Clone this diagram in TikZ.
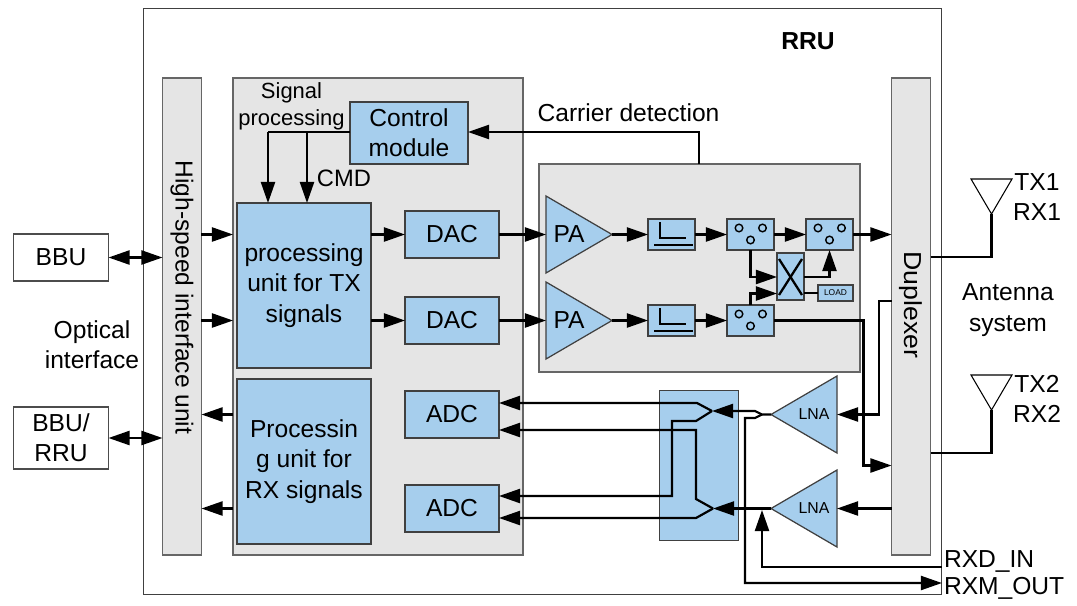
\documentclass[tikz,border=0pt]{standalone}
\usepackage{fontspec}
\setmainfont{Liberation Sans}
\usetikzlibrary{arrows.meta}
\definecolor{boxblue}{HTML}{A6CEED}
\definecolor{panelgray}{HTML}{E5E5E5}
\tikzset{
    every node/.style={font=\fontsize{14}{17.2}\selectfont,align=center,inner sep=0pt,outer sep=0pt},
    whitebox/.style={draw=black!70,line width=0.6pt,fill=white},
    graybox/.style={draw=black!60,line width=0.7pt,fill=panelgray},
    bluebox/.style={draw=black!75,line width=0.7pt,fill=boxblue},
    wire/.style={line width=1.25pt},
    arr/.style={line width=1.25pt,-{Triangle[length=12pt,width=8pt]}},
    darr/.style={line width=1.25pt,{Triangle[length=12pt,width=8pt]}-{Triangle[length=12pt,width=8pt]}},
    ring/.style={draw=black,line width=0.8pt,fill=none},
    glyphline/.style={line width=1.3pt}
}
\begin{document}
\begin{tikzpicture}[x=0.02cm,y=-0.02cm]
    \useasboundingbox (0,0) rectangle (1077,605);

    % outer frame and panels
    \node[whitebox,draw=black!75,minimum width=15.98cm,minimum height=11.74cm] (rru) at (542.5,301.5) {};
    \node[font=\fontsize{14}{17}\selectfont\bfseries] (rrutext) at (808,41) {RRU};
    \node[graybox,minimum width=0.78cm,minimum height=9.54cm] (hsi) at (182,316.5) {};
    \node[rotate=-90] (hsitext) at (182,297.5) {High-speed interface unit};
    \node[graybox,minimum width=5.8cm,minimum height=9.54cm] (digital) at (378,316.5) {};
    \node[graybox,minimum width=0.78cm,minimum height=9.54cm] (duplexer) at (911,316.5) {};
    \node[rotate=-90,xscale=1.085] (duptext) at (911,305) {Duplexer};
    \node[graybox,minimum width=6.42cm,minimum height=4.16cm] (rfpanel) at (699.5,268) {};

    % outside boxes
    \node[whitebox,minimum width=1.9cm,minimum height=0.94cm] (bbu) at (61,257.5) {BBU};
    \node[whitebox,minimum width=1.9cm,minimum height=1.24cm] (bburru) at (61,438) {BBU/\\RRU};
    \node (optical) at (92,345) {Optical\\interface};

    % digital part
    \node[bluebox,minimum width=2.36cm,minimum height=1.24cm] (control) at (409,133) {Control\\module};
    \node[bluebox,minimum width=2.68cm,minimum height=3.3cm] (txunit) at (304,285.5) {processing\\unit for TX\\signals};
    \node[bluebox,minimum width=2.68cm,minimum height=3.3cm] (rxunit) at (304,461.5) {Processin\\g unit for\\RX signals};
    \node[bluebox,minimum width=1.88cm,minimum height=0.94cm] (dac1) at (452,234.5) {DAC};
    \node[bluebox,minimum width=1.88cm,minimum height=0.94cm] (dac2) at (452,320.5) {DAC};
    \node[bluebox,minimum width=1.88cm,minimum height=0.94cm] (adc1) at (452,414.5) {ADC};
    \node[bluebox,minimum width=1.88cm,minimum height=0.94cm] (adc2) at (452,508.5) {ADC};
    \node[font=\fontsize{12.5}{15.4}\selectfont] (sigproc) at (291.5,106) {Signal\\processing};
    \node[font=\fontsize{13.5}{17}\selectfont] (cmd) at (344,178) {CMD};
    \node (carrier) at (628.5,112.5) {Carrier detection};

    % power amplifiers
    \coordinate (pa1in) at (546,234.5);
    \coordinate (pa1out) at (612,234.5);
    \filldraw[bluebox] (546,196) -- (pa1out) -- (546,273) -- cycle;
    \node (pa1) at (569,234.5) {PA};
    \coordinate (pa2in) at (546,320.5);
    \coordinate (pa2out) at (612,320.5);
    \filldraw[bluebox] (546,282) -- (pa2out) -- (546,359) -- cycle;
    \node (pa2) at (569,320.5) {PA};

    % filters, couplers, cross and load
    \node[bluebox,minimum width=0.94cm,minimum height=0.62cm] (filter1) at (671.5,234.5) {};
    \node[bluebox,minimum width=0.94cm,minimum height=0.62cm] (filter2) at (671.5,320.5) {};
    \node[bluebox,minimum width=0.94cm,minimum height=0.62cm] (coupler1) at (750.5,234.5) {};
    \node[bluebox,minimum width=0.94cm,minimum height=0.62cm] (coupler2) at (829.5,234.5) {};
    \node[bluebox,minimum width=0.94cm,minimum height=0.62cm] (coupler3) at (750.5,320.5) {};
    \node[bluebox,minimum width=0.54cm,minimum height=0.94cm] (cross) at (790.5,276.5) {};
    \node[bluebox,minimum width=0.7cm,minimum height=0.32cm,font=\fontsize{4.8}{5}\selectfont] (load) at (835.5,293) {LOAD};
    \foreach \fy in {0,86} {
        \draw[glyphline] (660,222+\fy) -- (660,238+\fy) -- (686,238+\fy);
        \draw[glyphline] (654,245+\fy) -- (693,245+\fy);
    }
    \foreach \cx/\cy in {750.5/234.5,829.5/234.5,750.5/320.5} {
        \draw[ring] (\cx-11.5,\cy-6.5) circle (3.8);
        \draw[ring] (\cx+12,\cy-6.5) circle (3.8);
        \draw[ring] (\cx,\cy+5.5) circle (3.8);
    }
    \draw[glyphline] (779,295) -- (802,259);
    \draw[glyphline] (779,259) -- (802,295);

    % mixer block and low noise amplifiers
    \node[bluebox,minimum width=1.58cm,minimum height=3cm] (mixer) at (699,465.5) {};
    \coordinate (lna1in) at (837,414.5);
    \coordinate (lna1out) at (771,414.5);
    \filldraw[bluebox] (837,376) -- (lna1out) -- (837,453) -- cycle;
    \node[font=\fontsize{9}{10}\selectfont] (lna1) at (814,414.5) {LNA};
    \coordinate (lna2in) at (837,508.5);
    \coordinate (lna2out) at (771,508.5);
    \filldraw[bluebox] (837,470) -- (lna2out) -- (837,547) -- cycle;
    \node[font=\fontsize{9}{10}\selectfont] (lna2) at (814,508.5) {LNA};

    % antennas
    \coordinate (ant1) at (991.5,214);
    \coordinate (ant2) at (991.5,410);
    \draw[line width=0.6pt,fill=white] (971,179) -- (1012,179) -- (ant1) -- cycle;
    \draw[line width=0.6pt,fill=white] (971,375) -- (1012,375) -- (ant2) -- cycle;
    \node (tx1) at (1037,197) {TX1\\RX1};
    \node (tx2) at (1037,399) {TX2\\RX2};
    \node (antenna) at (1008,310) {Antenna\\system};
    \node[anchor=west] (rxdin) at (944,561.5) {RXD\_IN};
    \node[anchor=west] (rxmout) at (944,588.5) {RXM\_OUT};

    % left side connections
    \draw[darr] (bbu.east) -- (bbu.east -| hsi.west);
    \draw[darr] (bburru.east) -- (bburru.east -| hsi.west);
    \draw[arr] (hsi.east |- pa1in) -- (digital.west |- pa1in);
    \draw[arr] (hsi.east |- pa2in) -- (digital.west |- pa2in);
    \draw[arr] (digital.west |- adc1) -- (hsi.east |- adc1);
    \draw[arr] (digital.west |- adc2) -- (hsi.east |- adc2);

    % control lines
    \coordinate (cmdleft) at (268,132);
    \coordinate (cmdmid) at (307,132);
    \coordinate (carrierup) at (699,132);
    \draw[wire] (control.west |- cmdleft) -- (cmdleft);
    \draw[arr] (cmdleft) -- (cmdleft |- txunit.north);
    \draw[arr] (cmdmid) -- (cmdmid |- txunit.north);
    \draw[arr] (rfpanel.north -| carrierup) -- (carrierup) -- (control.east |- carrierup);

    % transmit chain
    \draw[arr] (txunit.east |- dac1) -- (dac1.west);
    \draw[arr] (txunit.east |- dac2) -- (dac2.west);
    \draw[arr] (dac1.east) -- (pa1in);
    \draw[arr] (dac2.east) -- (pa2in);
    \draw[arr] (pa1out) -- (filter1.west);
    \draw[arr] (pa2out) -- (filter2.west);
    \draw[arr] (filter1.east) -- (coupler1.west);
    \draw[arr] (filter2.east) -- (coupler3.west);
    \draw[arr] (coupler1.east) -- (coupler2.west);
    \draw[arr] (coupler2.east) -- (duplexer.west |- coupler2);
    \coordinate (xin1) at (750.5,277);
    \coordinate (xin2) at (750.5,293.5);
    \draw[arr] (coupler1.south) -- (xin1) -- (cross.west |- xin1);
    \draw[arr] (coupler3.north) -- (xin2) -- (cross.west |- xin2);
    \coordinate (xout) at (829.5,277);
    \draw[arr] (cross.east |- xout) -- (xout) -- (coupler2.south);
    \draw[wire] (cross.east |- load) -- (load.west);
    \coordinate (tapa) at (863.5,320.5);
    \coordinate (tapb) at (863.5,465.5);
    \draw[arr] (coupler3.east) -- (tapa) -- (tapb) -- (duplexer.west |- tapb);

    % receive chain
    \coordinate (dupa) at (879,301);
    \coordinate (dupb) at (879,414.5);
    \draw[arr] (duplexer.west |- dupa) -- (dupa) -- (dupb) -- (lna1in);
    \draw[arr] (duplexer.west |- lna2in) -- (lna2in);
    \coordinate (split1) at (712,411);
    \coordinate (split2) at (713,508.5);
    \coordinate (fork) at (762,414.5);
    \draw[wire] (lna1out) -- (fork) -- (755,411) -- (732,411);
    \draw[arr] (732,411) -- (split1);
    \draw[arr] (lna2out) -- (split2);
    \coordinate (rxmturn) at (745,583);
    \draw[arr] (fork) -- (755,418) -- (745,418) -- (rxmturn) -- (rxmturn -| rru.east);
    \coordinate (rxdturn) at (762,567);
    \draw[arr] (rxdturn -| rru.east) -- (rxdturn) -- (762,510);
    \draw[arr] (split1) -- (697,403) -- (adc1.east |- 0,403);
    \draw[arr] (split1) -- (696,421) -- (672,421) -- (672,496) -- (adc2.east |- 0,496);
    \draw[arr] (split2) -- (696,499) -- (696,430) -- (adc1.east |- 0,430);
    \draw[arr] (split2) -- (696,518) -- (adc2.east |- 0,518);

    % antenna feeds
    \coordinate (feed1) at (991.5,257);
    \coordinate (feed2) at (991.5,453);
    \draw[line width=1.5pt] (duplexer.east |- feed1) -- (feed1) -- (ant1);
    \draw[line width=1.5pt] (duplexer.east |- feed2) -- (feed2) -- (ant2);
\end{tikzpicture}
\end{document}
